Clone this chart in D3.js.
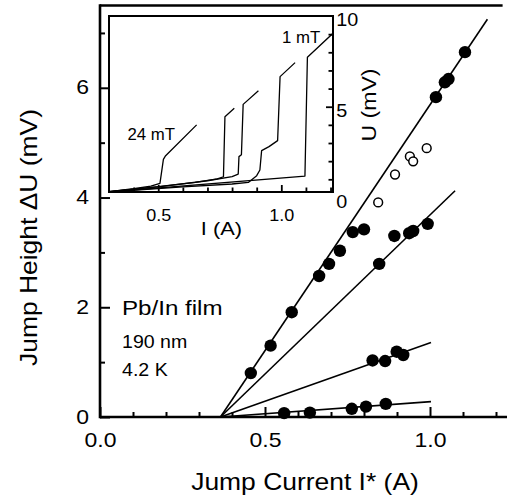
<!DOCTYPE html>
<html>
<head>
<meta charset="utf-8">
<script src="https://cdn.jsdelivr.net/npm/d3@7"></script>
<style>
  html, body { margin: 0; padding: 0; background: #fff; }
  svg { display: block; }
  text { font-family: "Liberation Sans", Arial, Helvetica, sans-serif; fill: #000; }
</style>
</head>
<body>
<svg id="chart" width="507" height="499"></svg>
<script>
// ---- main panel: jump height vs. jump current --------------------------
const onsetCurrent = 0.365;                 // common zero of the fitted lines (A)
const fitSlopes    = [8.96, 5.80, 2.13, 0.44];   // mV per A
const fitEnds      = [1.174, 1.076, 1.003, 1.003]; // last current of each line (A)

const filledSteep = [[0.457, 0.80], [0.517, 1.30], [0.581, 1.91], [0.664, 2.57],
                     [0.694, 2.79], [0.727, 3.03], [0.766, 3.37], [0.800, 3.42],
                     [1.018, 5.83], [1.045, 6.10], [1.056, 6.16], [1.106, 6.65]];
const filledSecond = [[0.846, 2.79], [0.892, 3.30], [0.937, 3.35], [0.949, 3.39], [0.993, 3.52]];
const filledThird  = [[0.826, 1.03], [0.864, 1.02], [0.899, 1.19], [0.919, 1.13]];
const filledFourth = [[0.558, 0.07], [0.636, 0.08], [0.763, 0.15], [0.806, 0.19], [0.866, 0.24]];
const openPoints   = [[0.843, 3.91], [0.894, 4.42], [0.939, 4.75], [0.949, 4.66], [0.990, 4.90]];

const xMajorTicks = [0, 0.5, 1.0];
const xMinorTicks = [0.1, 0.2, 0.3, 0.4, 0.6, 0.7, 0.8, 0.9, 1.1, 1.2];
const yMajorTicks = [0, 2, 4, 6];
const yMinorTicks = [1, 3, 5, 7];

const xTitle = "Jump Current I* (A)";
const yTitle = "Jump Height \u0394U (mV)";
const sampleLines = ["Pb/In film", "190 nm", "4.2 K"];

// ---- inset: U(I) traces at different fields ----------------------------
const trace24mT = [[0.300, 0.32], [0.400, 0.48], [0.470, 0.62], [0.507, 0.78],
                   [0.521, 2.10], [0.530, 2.30], [0.656, 4.00]];
const traceB    = [[0.300, 0.32], [0.500, 0.60], [0.650, 0.83], [0.740, 1.02],
                   [0.765, 1.14], [0.771, 4.45], [0.809, 4.91]];
const traceC    = [[0.300, 0.32], [0.500, 0.58], [0.700, 0.92], [0.800, 1.15],
                   [0.825, 1.29], [0.828, 2.25], [0.838, 2.35], [0.845, 5.13], [0.907, 5.88]];
const traceD    = [[0.300, 0.30], [0.600, 0.58], [0.800, 0.74], [0.866, 0.83],
                   [0.900, 1.20], [0.913, 1.51], [0.920, 2.58], [0.950, 2.80],
                   [0.985, 3.13], [0.995, 6.66], [1.056, 7.43]];
const trace1mT  = [[0.300, 0.30], [1.096, 1.18], [1.106, 7.73], [1.210, 9.05]];
const insetTraces = [trace24mT, traceB, traceC, traceD, trace1mT];

const insetXMajor  = [0.5, 1.0];
const insetXMinor  = [0.4, 0.6, 0.7, 0.8, 0.9, 1.1, 1.2];
const insetYLabels = [0, 5, 10];
const insetYMinor  = [1, 2, 3, 4, 6, 7, 8, 9];
const insetYMajor  = [5];
const insetXTitle  = "I (A)";
const insetYTitle  = "U (mV)";
const fieldLabels  = ["24 mT", "1 mT"];

// ---- scales -------------------------------------------------------------
const svg = d3.select("#chart");
svg.append("rect").attr("width", 507).attr("height", 499).attr("fill", "#fff");

const x = d3.scaleLinear().domain([0, 1.25]).range([100, 512.5]);
const y = d3.scaleLinear().domain([0, 7.5]).range([417, 5.5]);

const xi = d3.scaleLinear().domain([0.3, 1.21]).range([109, 333]);
const yi = d3.scaleLinear().domain([0.3, 10]).range([192, 16]);

// text with a slight horizontal widening of the glyphs
function addText(g, px, py, str, size, opts = {}) {
  const sx = opts.sx || 1.15;
  const rot = opts.rotate ? ` rotate(${opts.rotate})` : "";
  return g.append("text")
    .attr("transform", `translate(${px},${py})${rot} scale(${sx},1)`)
    .attr("text-anchor", opts.anchor || "start")
    .attr("font-size", size)
    .text(str);
}

function styleAxis(g, width, fontSize, sx) {
  g.select(".domain").remove();
  g.selectAll(".tick line").attr("stroke", "#000").attr("stroke-width", width);
  g.selectAll(".tick text")
    .attr("font-size", fontSize)
    .attr("font-family", null)
    .attr("fill", "#000")
    .attr("transform", `scale(${sx},1)`);
}

// ---- main axes ----------------------------------------------------------
const gx1 = svg.append("g").attr("transform", "translate(0,417)")
  .call(d3.axisBottom(x).tickValues(xMinorTicks).tickSize(-5).tickFormat(""));
styleAxis(gx1, 2, 20, 1.15);
const gx2 = svg.append("g").attr("transform", "translate(0,417)")
  .call(d3.axisBottom(x).tickValues(xMajorTicks).tickSize(-10).tickPadding(16)
        .tickFormat(d3.format(".1f")));
styleAxis(gx2, 2, 20, 1.15);

const gy1 = svg.append("g").attr("transform", "translate(100,0)")
  .call(d3.axisLeft(y).tickValues(yMinorTicks).tickSize(-5).tickFormat(""));
styleAxis(gy1, 2, 20, 1.15);
const gy2 = svg.append("g").attr("transform", "translate(100,0)")
  .call(d3.axisLeft(y).tickValues(yMajorTicks).tickSize(-10).tickPadding(9.5)
        .tickFormat(d3.format("d")));
styleAxis(gy2, 2, 20, 1.15);
gy2.selectAll(".tick text").attr("dy", "0.30em");

// frame: left, bottom and top edges of the plot area
const frame = svg.append("g").attr("stroke", "#000").attr("stroke-width", 2.6).attr("fill", "none");
frame.append("line").attr("x1", x(0)).attr("x2", x(0)).attr("y1", y(7.5) - 1.3).attr("y2", y(0) + 1.3);
frame.append("line").attr("x1", x(0)).attr("x2", 507).attr("y1", y(0)).attr("y2", y(0));
frame.append("line").attr("x1", x(0)).attr("x2", x(1.22)).attr("y1", y(7.5)).attr("y2", y(7.5));

// ---- fitted lines -------------------------------------------------------
svg.append("g").selectAll("line").data(fitSlopes).join("line")
  .attr("x1", x(onsetCurrent)).attr("y1", y(0))
  .attr("x2", (s, i) => x(fitEnds[i]))
  .attr("y2", (s, i) => y(s * (fitEnds[i] - onsetCurrent)))
  .attr("stroke", "#000").attr("stroke-width", 1.6);

// ---- data points --------------------------------------------------------
const filled = [].concat(filledSteep, filledSecond, filledThird, filledFourth);
svg.append("g").selectAll("circle").data(filled).join("circle")
  .attr("cx", d => x(d[0])).attr("cy", d => y(d[1])).attr("r", 6.2)
  .attr("fill", "#000");
svg.append("g").selectAll("circle").data(openPoints).join("circle")
  .attr("cx", d => x(d[0])).attr("cy", d => y(d[1])).attr("r", 4.4)
  .attr("fill", "#fff").attr("stroke", "#000").attr("stroke-width", 1.5);

// ---- titles and annotation ---------------------------------------------
addText(svg, 305, 490, xTitle, 23, { anchor: "middle" });
addText(svg, 36.5, 237.5, yTitle, 23, { anchor: "middle", rotate: -90 });
addText(svg, 122, 315, sampleLines[0], 21);
addText(svg, 122, 348, sampleLines[1], 17.5, { sx: 1.12 });
addText(svg, 122, 376, sampleLines[2], 17.5, { sx: 1.12 });

// ---- inset --------------------------------------------------------------
const inset = svg.append("g");
inset.append("rect")
  .attr("x", xi(0.3)).attr("y", yi(10))
  .attr("width", xi(1.21) - xi(0.3)).attr("height", yi(0.3) - yi(10))
  .attr("fill", "#fff");

inset.append("defs").append("clipPath").attr("id", "insetClip")
  .append("rect")
  .attr("x", xi(0.3)).attr("y", yi(10))
  .attr("width", xi(1.21) - xi(0.3)).attr("height", yi(0.3) - yi(10));

const traceLine = d3.line().x(d => xi(d[0])).y(d => yi(d[1]));
inset.append("g").attr("clip-path", "url(#insetClip)")
  .selectAll("path").data(insetTraces).join("path")
  .attr("d", traceLine)
  .attr("fill", "none").attr("stroke", "#000").attr("stroke-width", 1.3)
  .attr("stroke-linejoin", "round");

const gix1 = inset.append("g").attr("transform", `translate(0,${yi(0.3)})`)
  .call(d3.axisBottom(xi).tickValues(insetXMinor).tickSize(-4.5).tickFormat(""));
styleAxis(gix1, 1.8, 17, 1.06);
const gix2 = inset.append("g").attr("transform", `translate(0,${yi(0.3)})`)
  .call(d3.axisBottom(xi).tickValues(insetXMajor).tickSize(-7).tickPadding(17)
        .tickFormat(d3.format(".1f")));
styleAxis(gix2, 1.8, 17, 1.06);

const giy1 = inset.append("g").attr("transform", `translate(${xi(1.21)},0)`)
  .call(d3.axisRight(yi).tickValues(insetYMinor).tickSize(-4.5).tickFormat(""));
styleAxis(giy1, 1.8, 17, 1.06);
const giy2 = inset.append("g").attr("transform", `translate(${xi(1.21)},0)`)
  .call(d3.axisRight(yi).tickValues(insetYMajor).tickSize(-7).tickFormat(""));
styleAxis(giy2, 1.8, 17, 1.06);
const giy3 = inset.append("g").attr("transform", `translate(${xi(1.21)},0)`)
  .call(d3.axisRight(yi).tickValues(insetYLabels).tickSize(0).tickPadding(3)
        .tickFormat(d3.format("d")));
styleAxis(giy3, 0, 18, 1.1);
giy3.selectAll(".tick text").attr("dy", "0.55em");

inset.append("rect")
  .attr("x", xi(0.3)).attr("y", yi(10))
  .attr("width", xi(1.21) - xi(0.3)).attr("height", yi(0.3) - yi(10))
  .attr("fill", "none").attr("stroke", "#000").attr("stroke-width", 2);

addText(inset, 221.5, 235, insetXTitle, 19, { anchor: "middle" });
addText(inset, 376, 105, insetYTitle, 20, { anchor: "middle", rotate: -90 });
addText(inset, 127.5, 140, fieldLabels[0], 16, { sx: 1.05 });
addText(inset, 282, 43, fieldLabels[1], 16, { sx: 1.05 });
</script>
</body>
</html>
